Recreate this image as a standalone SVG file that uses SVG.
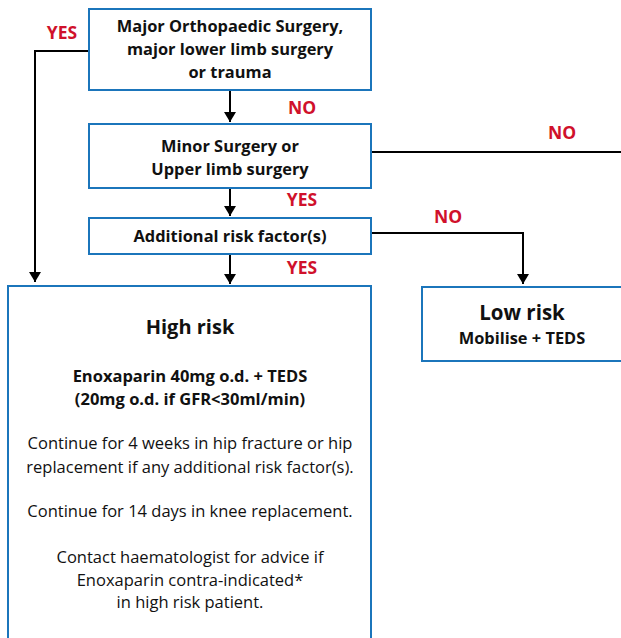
<svg xmlns="http://www.w3.org/2000/svg" width="621" height="638" viewBox="0 0 621 638">
<defs>
<marker id="ah" viewBox="0 0 10 12" refX="10" refY="6" markerWidth="10" markerHeight="12" markerUnits="userSpaceOnUse" orient="auto">
<path d="M0,0 L10,6 L0,12 Z" fill="#000"/>
</marker>
<style>
.box{fill:#fff;stroke:#1b75bb;stroke-width:2}
.c{fill:none;stroke:#000;stroke-width:2}
.t{font-family:"Open Sans","Liberation Sans",sans-serif;fill:#111;text-anchor:middle}
.b{font-weight:bold}
.lbl{font-family:"Open Sans","Liberation Sans",sans-serif;font-weight:bold;fill:#d0112b;font-size:17.5px;text-anchor:middle}
</style>
</defs>
<rect width="621" height="638" fill="#fff"/>
<g id="connectors">
<polyline class="c" points="89,51 35,51 35,282" marker-end="url(#ah)"/>
<line class="c" x1="230" y1="90" x2="230" y2="122" marker-end="url(#ah)"/>
<line class="c" x1="371" y1="152" x2="621" y2="152"/>
<line class="c" x1="230" y1="188" x2="230" y2="216" marker-end="url(#ah)"/>
<polyline class="c" points="371,233 523,233 523,284" marker-end="url(#ah)"/>
<line class="c" x1="230" y1="254" x2="230" y2="284" marker-end="url(#ah)"/>
<text class="lbl" x="62" y="39">YES</text>
<text class="lbl" x="302" y="114">NO</text>
<text class="lbl" x="562" y="139">NO</text>
<text class="lbl" x="302" y="206">YES</text>
<text class="lbl" x="448" y="223">NO</text>
<text class="lbl" x="302" y="274">YES</text>
</g>
<g id="major">
<rect class="box" x="89" y="9" width="282" height="81"/>
<text class="t b" font-size="16.4" x="230" y="32">Major Orthopaedic Surgery,</text>
<text class="t b" font-size="16.4" x="230" y="55">major lower limb surgery</text>
<text class="t b" font-size="16.4" x="230" y="78">or trauma</text>
</g>
<g id="minor">
<rect class="box" x="89" y="124" width="282" height="64"/>
<text class="t b" font-size="16.4" x="230" y="152">Minor Surgery or</text>
<text class="t b" font-size="16.4" x="230" y="175">Upper limb surgery</text>
</g>
<g id="additional">
<rect class="box" x="89" y="218" width="282" height="36"/>
<text class="t b" font-size="16.4" x="230" y="242">Additional risk factor(s)</text>
</g>
<g id="high">
<rect class="box" x="8" y="286" width="363" height="360"/>
<text class="t b" font-size="20" x="190" y="334">High risk</text>
<text class="t b" font-size="16.5" x="190" y="382">Enoxaparin 40mg o.d. + TEDS</text>
<text class="t b" font-size="16.5" x="190" y="405">(20mg o.d. if GFR&lt;30ml/min)</text>
<text class="t" font-size="16.5" x="190" y="449">Continue for 4 weeks in hip fracture or hip</text>
<text class="t" font-size="16.5" x="190" y="473">replacement if any additional risk factor(s).</text>
<text class="t" font-size="16.5" x="190" y="517">Continue for 14 days in knee replacement.</text>
<text class="t" font-size="16.5" x="190" y="563">Contact haematologist for advice if</text>
<text class="t" font-size="16.5" x="190" y="586">Enoxaparin contra-indicated*</text>
<text class="t" font-size="16.5" x="190" y="608">in high risk patient.</text>
</g>
<g id="low">
<rect class="box" x="422" y="287" width="220" height="74"/>
<text class="t b" font-size="20.5" x="522" y="320">Low risk</text>
<text class="t b" font-size="16.4" x="522" y="344">Mobilise + TEDS</text>
</g>
</svg>
